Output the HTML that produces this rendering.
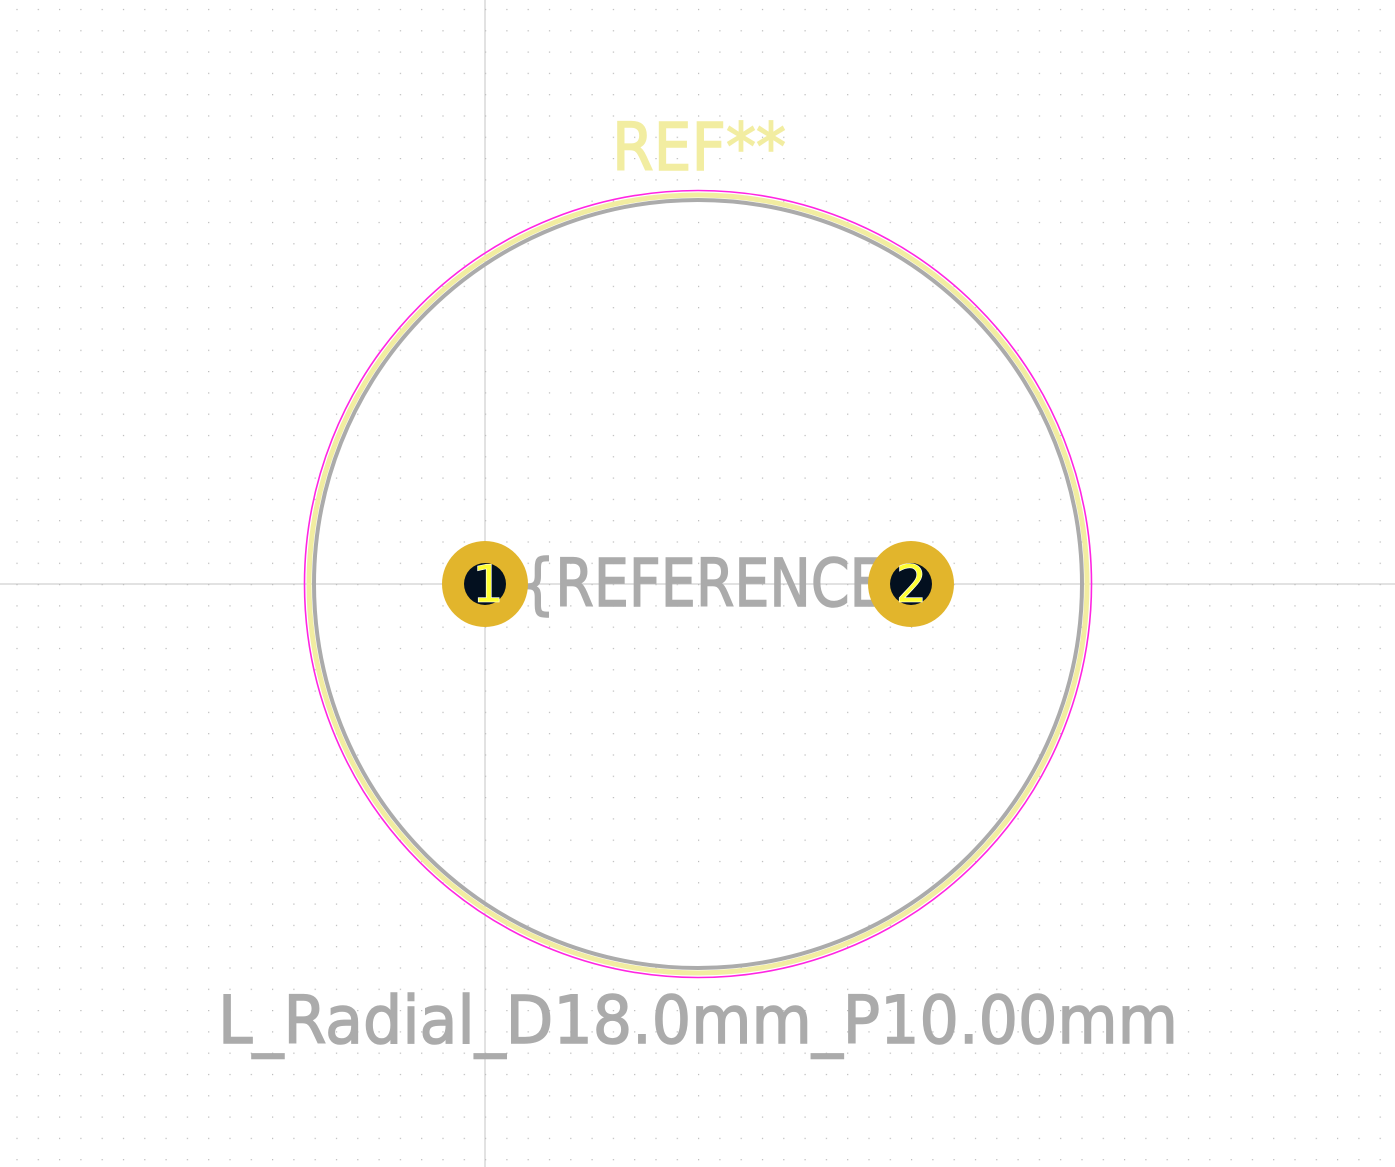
<!DOCTYPE html>
<html><head><meta charset="utf-8"><style>html,body{margin:0;padding:0;background:#fff}svg{display:block}</style></head>
<body>
<svg width="1395" height="1167" viewBox="0 0 1395 1167" xmlns="http://www.w3.org/2000/svg">
<defs>
<pattern id="grid" x="485" y="584" width="21.3" height="21.3" patternUnits="userSpaceOnUse">
<rect x="0" y="0" width="1.2" height="1.2" fill="#b8b8b8"/>
</pattern>
</defs>
<rect width="1395" height="1167" fill="#fff"/>
<rect width="1395" height="1167" fill="url(#grid)"/>
<line x1="485" y1="0" x2="485" y2="1167" stroke="#c4c4c4" stroke-width="1"/>
<line x1="0" y1="584" x2="1395" y2="584" stroke="#c4c4c4" stroke-width="1"/>
<circle cx="698" cy="584" r="393.5" fill="none" stroke="#ff26e2" stroke-width="1.6"/>
<circle cx="698" cy="584" r="389" fill="none" stroke="#f2eda1" stroke-width="5"/>
<circle cx="698" cy="584" r="384" fill="none" stroke="#ababab" stroke-width="4"/>
<text x="612" y="170" font-family="DejaVu Sans, Liberation Sans, sans-serif" font-size="66" fill="#f2eda1" stroke="#f2eda1" stroke-width="1.5" textLength="174" lengthAdjust="spacingAndGlyphs">REF**</text>
<text x="520" y="606" font-family="DejaVu Sans, Liberation Sans, sans-serif" font-size="66" fill="#ababab" stroke="#ababab" stroke-width="1.5" textLength="400" lengthAdjust="spacingAndGlyphs">{REFERENCE}</text>
<text x="218" y="1043" font-family="DejaVu Sans, Liberation Sans, sans-serif" font-size="66" fill="#ababab" stroke="#ababab" stroke-width="1.5" textLength="960" lengthAdjust="spacingAndGlyphs">L_Radial_D18.0mm_P10.00mm</text>
<g>
<circle cx="485" cy="584" r="43" fill="#e2b52c"/>
<circle cx="485" cy="584" r="21" fill="#03101f"/>
<text x="487" y="602" text-anchor="middle" font-family="DejaVu Sans Mono, monospace" font-size="52" fill="#ffff33" stroke="#fff" stroke-width="0.6">1</text>
</g>
<g>
<circle cx="911" cy="584" r="43" fill="#e2b52c"/>
<circle cx="911" cy="584" r="21" fill="#03101f"/>
<text x="911" y="602" text-anchor="middle" font-family="DejaVu Sans Mono, monospace" font-size="52" fill="#ffff33" stroke="#fff" stroke-width="0.6">2</text>
</g>
</svg>
</body></html>
